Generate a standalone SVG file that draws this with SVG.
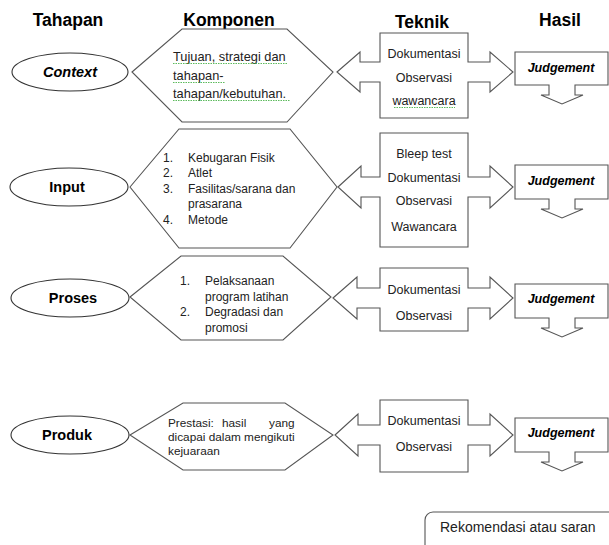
<svg xmlns="http://www.w3.org/2000/svg" width="609" height="545" viewBox="0 0 609 545">
<defs>
<style>
.hdr{font-family:"Liberation Sans",Arial,sans-serif;font-size:17.5px;font-weight:bold;fill:#000;text-anchor:middle}
.stage{font-family:"Liberation Sans",Arial,sans-serif;font-size:14.5px;font-weight:bold;fill:#000;text-anchor:middle}
.it{font-style:italic}
.t{font-family:"Liberation Sans",Arial,sans-serif;font-size:12px;fill:#222}
.tc{font-family:"Liberation Sans",Arial,sans-serif;font-size:12.5px;fill:#222;text-anchor:middle}
.j{font-family:"Liberation Sans",Arial,sans-serif;font-size:12.5px;font-weight:bold;font-style:italic;fill:#000;text-anchor:middle}
.sh{fill:#fff;stroke:#555;stroke-width:1.1}
.el{fill:#fff;stroke:#333;stroke-width:1.1}
.sq{fill:none;stroke:#3a3;stroke-width:0.8;stroke-dasharray:1.5 1}
</style>
</defs>
<rect width="609" height="545" fill="#fff"/>
<g id="headers">
<text class="hdr" x="68" y="26">Tahapan</text>
<text class="hdr" x="229" y="26">Komponen</text>
<text class="hdr" x="422" y="28">Teknik</text>
<text class="hdr" x="560" y="26">Hasil</text>
</g>

<g id="connectors">
<path class="sh" d="M337,72 L360,52 L360,62 L380,62 L380,33 L468,33 L468,62 L490,62 L490,52 L513,72 L490,92 L490,82 L468,82 L468,118 L380,118 L380,82 L360,82 L360,92 Z"/>
<path class="sh" d="M338,187 L361,166 L361,177 L380,177 L380,133 L468,133 L468,177 L490,177 L490,166 L513,187 L490,208 L490,197 L468,197 L468,247 L380,247 L380,197 L361,197 L361,208 Z"/>
<path class="sh" d="M333,298 L357,277 L357,288 L380,288 L380,268 L468,268 L468,288 L490,288 L490,277 L513,298 L490,319 L490,308 L468,308 L468,331 L380,331 L380,308 L357,308 L357,319 Z"/>
<path class="sh" d="M335,435 L358,414 L358,425 L380,425 L380,400 L468,400 L468,425 L490,425 L490,414 L513,435 L490,456 L490,445 L468,445 L468,472 L380,472 L380,445 L358,445 L358,456 Z"/>
</g>

<g id="context">
<ellipse class="el" cx="70" cy="72" rx="58" ry="19"/>
<text class="stage it" x="70" y="77">Context</text>
</g>
<g id="context-komponen">
<polygon class="sh" points="132,72 182,29 287,29 333,72 287,122 182,122"/>
<text class="t" style="font-size:12.8px" x="173" y="61">Tujuan, strategi dan</text>
<text class="t" style="font-size:12.8px" x="173" y="80">tahapan-</text>
<text class="t" style="font-size:12.8px" x="173" y="98">tahapan/kebutuhan.</text>
<path class="sq" d="M173,63.5 L287,63.5 M173,82.5 L225,82.5 M173,100.5 L290,100.5"/>
</g>
<g id="context-teknik">
<text class="tc" x="424" y="58">Dokumentasi</text>
<text class="tc" x="424" y="82">Observasi</text>
<text class="tc" x="424" y="105">wawancara</text>
<path class="sq" d="M394,107.5 L455,107.5"/>
</g>
<g id="context-hasil">
<path class="sh" d="M515,52 L608,52 L608,85 L575,85 L575,95 L583,95 L562,104 L541,95 L549,95 L549,85 L515,85 Z"/>
<text class="j" x="561" y="72">Judgement</text>
</g>

<g id="input">
<ellipse class="el" cx="69" cy="187" rx="59" ry="19"/>
<text class="stage" x="67" y="192">Input</text>
</g>
<g id="input-komponen">
<polygon class="sh" points="130,187 179,129 290,129 337,187 290,248 179,248"/>
<text class="t" x="163" y="162">1.</text><text class="t" x="188" y="162">Kebugaran Fisik</text>
<text class="t" x="163" y="177">2.</text><text class="t" x="188" y="177">Atlet</text>
<text class="t" x="163" y="193">3.</text><text class="t" x="188" y="193">Fasilitas/sarana dan</text>
<text class="t" x="188" y="208">prasarana</text>
<text class="t" x="163" y="224">4.</text><text class="t" x="188" y="224">Metode</text>
</g>
<g id="input-teknik">
<text class="tc" x="424" y="158">Bleep test</text>
<text class="tc" x="424" y="182">Dokumentasi</text>
<text class="tc" x="424" y="205">Observasi</text>
<text class="tc" x="424" y="231">Wawancara</text>
</g>
<g id="input-hasil">
<path class="sh" d="M515,165 L608,165 L608,199 L575,199 L575,209 L583,209 L562,218 L541,209 L549,209 L549,199 L515,199 Z"/>
<text class="j" x="561" y="185">Judgement</text>
</g>

<g id="proses">
<ellipse class="el" cx="70" cy="298" rx="59" ry="19"/>
<text class="stage" x="73" y="303">Proses</text>
</g>
<g id="proses-komponen">
<polygon class="sh" points="130,297 181,256 283,256 331,297 283,340 181,340"/>
<text class="t" x="180" y="285">1.</text><text class="t" x="205" y="285">Pelaksanaan</text>
<text class="t" x="205" y="301">program latihan</text>
<text class="t" x="180" y="316">2.</text><text class="t" x="205" y="316">Degradasi dan</text>
<text class="t" x="205" y="332">promosi</text>
</g>
<g id="proses-teknik">
<text class="tc" x="424" y="294">Dokumentasi</text>
<text class="tc" x="424" y="320">Observasi</text>
</g>
<g id="proses-hasil">
<path class="sh" d="M515,284 L608,284 L608,318 L575,318 L575,328 L583,328 L562,337 L541,328 L549,328 L549,318 L515,318 Z"/>
<text class="j" x="561" y="303">Judgement</text>
</g>

<g id="produk">
<ellipse class="el" cx="70" cy="435" rx="59" ry="19"/>
<text class="stage" x="67" y="440">Produk</text>
</g>
<g id="produk-komponen">
<polygon class="sh" points="130,435 183,403 285,403 333,435 285,470 183,470"/>
<text class="t" style="font-size:11.8px" x="168" y="427"><tspan>Prestasi:</tspan><tspan x="222">hasil</tspan><tspan x="269">yang</tspan></text>
<text class="t" style="font-size:11.8px" x="168" y="441">dicapai dalam mengikuti</text>
<text class="t" style="font-size:11.8px" x="168" y="455">kejuaraan</text>
</g>
<g id="produk-teknik">
<text class="tc" x="424" y="425">Dokumentasi</text>
<text class="tc" x="424" y="451">Observasi</text>
</g>
<g id="produk-hasil">
<path class="sh" d="M515,418 L608,418 L608,452 L575,452 L575,462 L583,462 L562,471 L541,462 L549,462 L549,452 L515,452 Z"/>
<text class="j" x="561" y="437">Judgement</text>
</g>

<g id="rekomendasi">
<rect class="sh" x="425" y="512" width="200" height="50" rx="8"/>
<text class="t" style="font-size:14px" x="440" y="532">Rekomendasi atau saran</text>
</g>
</svg>
